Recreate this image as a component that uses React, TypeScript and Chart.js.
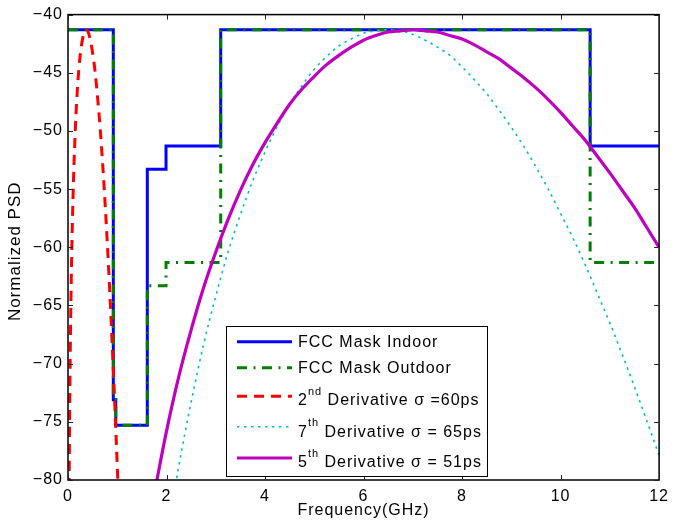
import { useEffect, useRef } from 'react';
import { Chart, registerables } from 'chart.js';

Chart.register(...registerables);

// ---- data -------------------------------------------------------------

const seriesLabels = [
  'FCC Mask Indoor',
  'FCC Mask Outdoor',
  '2nd Derivative σ =60ps',
  '7th Derivative σ = 65ps',
  '5th Derivative σ = 51ps',
];

// FCC spectral masks (GHz, dBm/MHz)
const maskFreq = [0, 0.92, 0.92, 0.97, 0.97, 1.61, 1.61, 1.99, 1.99, 3.1, 3.1, 10.6, 10.6, 12];
const indoorPSD = [-41.3, -41.3, -73.1, -73.1, -75.3, -75.3, -53.3, -53.3, -51.3, -51.3, -41.3, -41.3, -51.3, -51.3];
const outdoorPSD = [-41.3, -41.3, -73.1, -73.1, -75.3, -75.3, -63.3, -63.3, -61.3, -61.3, -41.3, -41.3, -61.3, -61.3];

// 2nd derivative Gaussian pulse, sigma = 60 ps
const freq2nd = [0.01, 0.02, 0.03, 0.04, 0.06, 0.08, 0.1, 0.12, 0.15, 0.2, 0.25, 0.3, 0.35, 0.37, 0.4, 0.45, 0.5, 0.55, 0.6, 0.65, 0.7, 0.75, 0.8, 0.85, 0.9, 0.95, 1.0, 1.05];
const psd2nd = [-95.3, -83.3, -76.3, -71.4, -64.4, -59.6, -56.0, -53.1, -49.7, -45.8, -43.4, -42.0, -41.4, -41.3, -41.4, -42.1, -43.3, -44.9, -47.1, -49.6, -52.6, -56.0, -59.8, -64.0, -68.6, -73.5, -78.8, -84.5];

// 7th derivative Gaussian pulse, sigma = 65 ps
const freq7th = [2.0, 2.25, 2.5, 2.75, 3.0, 3.25, 3.5, 3.75, 4.0, 4.25, 4.5, 4.75, 5.0, 5.25, 5.5, 5.75, 6.0, 6.25, 6.5, 6.75, 7.0, 7.25, 7.5, 7.75, 8.0, 8.25, 8.5, 8.75, 9.0, 9.25, 9.5, 9.75, 10.0, 10.25, 10.5, 10.75, 11.0, 11.25, 11.5, 11.75, 12.0];
const psd7th = [-85.2, -78.8, -73.3, -68.4, -64.2, -60.4, -57.2, -54.3, -51.8, -49.6, -47.7, -46.1, -44.7, -43.6, -42.7, -42.1, -41.6, -41.4, -41.3, -41.4, -41.7, -42.2, -42.8, -43.5, -44.5, -45.6, -46.8, -48.2, -49.7, -51.3, -53.1, -55.0, -57.1, -59.2, -61.5, -64.0, -66.5, -69.2, -72.0, -74.9, -77.9];

// 5th derivative Gaussian pulse, sigma = 51 ps
const freq5th = [1.75, 2.0, 2.25, 2.5, 2.75, 3.0, 3.25, 3.5, 3.75, 4.0, 4.25, 4.5, 4.75, 5.0, 5.25, 5.5, 5.75, 6.0, 6.25, 6.5, 6.75, 7.0, 7.25, 7.5, 7.75, 8.0, 8.25, 8.5, 8.75, 9.0, 9.25, 9.5, 9.75, 10.0, 10.25, 10.5, 10.75, 11.0, 11.25, 11.5, 11.75, 12.0];
const psd5th = [-81.2, -75.8, -71.1, -67.1, -63.5, -60.4, -57.6, -55.1, -52.9, -51.0, -49.3, -47.7, -46.4, -45.3, -44.3, -43.5, -42.8, -42.2, -41.8, -41.5, -41.4, -41.3, -41.4, -41.5, -41.8, -42.1, -42.6, -43.2, -43.8, -44.6, -45.4, -46.3, -47.3, -48.4, -49.6, -50.8, -52.2, -53.6, -55.1, -56.6, -58.3, -60.0];

const freqTicks = [0, 2, 4, 6, 8, 10, 12];
const psdTicks = [-80, -75, -70, -65, -60, -55, -50, -45, -40];

const xTitle = 'Frequency(GHz)';
const yTitle = 'Normalized PSD';

// ---- styling ----------------------------------------------------------

const FONT = '"Liberation Sans", Arial, Helvetica, sans-serif';

const seriesStyles = [
  { color: '#0000ff', width: 3, dash: [] as number[] },
  { color: '#008000', width: 3, dash: [10, 6.5, 2, 6.5] },
  { color: '#ff0000', width: 3, dash: [10, 7] },
  { color: '#00bfbf', width: 1.6, dash: [2.5, 4.5] },
  { color: '#bf00bf', width: 3.2, dash: [] as number[] },
];

const pairs = (xs: number[], ys: number[]) => xs.map((x, i) => ({ x, y: ys[i] }));

const seriesData = [
  pairs(maskFreq, indoorPSD),
  pairs(maskFreq, outdoorPSD),
  pairs(freq2nd, psd2nd),
  pairs(freq7th, psd7th),
  pairs(freq5th, psd5th),
];

const minusLabel = (v: number | string) => {
  const n = Number(v);
  return n < 0 ? '\u2212' + Math.abs(n) : String(n);
};

// box, inward ticks, axis titles and legend
const framePlugin = {
  id: 'frame',
  beforeDraw(chart: any) {
    chart.ctx.letterSpacing = '1px';
  },
  afterDraw(chart: any) {
    const ctx: CanvasRenderingContext2D = chart.ctx;
    const { left, right, top, bottom } = chart.chartArea;
    const xs = chart.scales.x;
    const ys = chart.scales.y;
    ctx.save();
    ctx.letterSpacing = '1px';

    // axes box
    ctx.strokeStyle = '#000';
    ctx.lineWidth = 1.5;
    ctx.setLineDash([]);
    ctx.strokeRect(left, top, right - left, bottom - top);

    // inward tick marks on all four sides
    const tl = 5;
    ctx.lineWidth = 1;
    ctx.strokeStyle = '#222';
    ctx.beginPath();
    freqTicks.forEach((v) => {
      const px = Math.round(xs.getPixelForValue(v)) + 0.5;
      ctx.moveTo(px, bottom);
      ctx.lineTo(px, bottom - tl);
      ctx.moveTo(px, top);
      ctx.lineTo(px, top + tl);
    });
    psdTicks.forEach((v) => {
      const py = Math.round(ys.getPixelForValue(v)) + 0.5;
      ctx.moveTo(left, py);
      ctx.lineTo(left + tl, py);
      ctx.moveTo(right, py);
      ctx.lineTo(right - tl, py);
    });
    ctx.stroke();

    // axis titles
    ctx.fillStyle = '#000';
    ctx.font = `16px ${FONT}`;
    ctx.textAlign = 'center';
    ctx.textBaseline = 'alphabetic';
    ctx.fillText(xTitle, (left + right) / 2, 515);

    ctx.save();
    ctx.translate(20, (top + bottom) / 2 + 4);
    ctx.rotate(-Math.PI / 2);
    ctx.font = `17px ${FONT}`;
    ctx.fillText(yTitle, 0, 0);
    ctx.restore();

    // legend
    const lx = 226;
    const ly = 326;
    const lw = 261;
    const lh = 150;
    ctx.fillStyle = '#fff';
    ctx.fillRect(lx, ly, lw, lh);
    ctx.strokeStyle = '#000';
    ctx.lineWidth = 1;
    ctx.strokeRect(lx + 0.5, ly + 0.5, lw, lh);

    const lineY = [341.7, 367.7, 396.3, 426.7, 458];
    const baseY = [347.3, 373.3, 405, 436.7, 467];
    ctx.textAlign = 'left';
    seriesLabels.forEach((label, i) => {
      const st = seriesStyles[i];
      ctx.strokeStyle = st.color;
      ctx.lineWidth = st.width;
      ctx.setLineDash(st.dash);
      ctx.beginPath();
      ctx.moveTo(237, lineY[i]);
      ctx.lineTo(292, lineY[i]);
      ctx.stroke();
      ctx.setLineDash([]);

      ctx.fillStyle = '#000';
      let x = 298;
      const m = label.match(/^(\d)(st|nd|rd|th)(.*)$/);
      if (m) {
        ctx.font = `16px ${FONT}`;
        ctx.fillText(m[1], x, baseY[i]);
        x += ctx.measureText(m[1]).width;
        ctx.font = `11px ${FONT}`;
        ctx.fillText(m[2], x, baseY[i] - 10.5);
        x += ctx.measureText(m[2]).width;
        ctx.font = `16px ${FONT}`;
        ctx.fillText(m[3], x, baseY[i]);
      } else {
        ctx.font = `16px ${FONT}`;
        ctx.fillText(label, x, baseY[i]);
      }
    });
    ctx.restore();
  },
};

export default function App() {
  const canvasRef = useRef<HTMLCanvasElement>(null);

  useEffect(() => {
    const canvas = canvasRef.current;
    if (!canvas) return;
    const chart = new Chart(canvas, {
      type: 'line',
      data: {
        datasets: seriesLabels.map((label, i) => ({
          label,
          data: seriesData[i],
          borderColor: seriesStyles[i].color,
          borderWidth: seriesStyles[i].width,
          borderDash: seriesStyles[i].dash,
          borderCapStyle: 'butt' as const,
          borderJoinStyle: (i < 2 ? 'miter' : 'round') as any,
          cubicInterpolationMode: (i < 2 ? 'default' : 'monotone') as any,
          pointRadius: 0,
          fill: false,
          tension: 0,
          clip: 0,
          order: seriesLabels.length - i,
        })),
      },
      options: {
        animation: false,
        responsive: false,
        events: [],
        layout: { padding: { top: 10, right: 11, left: 0, bottom: 0 } },
        plugins: {
          legend: { display: false },
          tooltip: { enabled: false },
        },
        scales: {
          x: {
            type: 'linear',
            min: 0,
            max: 12,
            grid: { display: false, drawTicks: false },
            border: { display: false },
            afterBuildTicks: (s: any) => {
              s.ticks = freqTicks.map((value) => ({ value }));
            },
            afterFit: (s: any) => {
              s.height = 49;
            },
            ticks: {
              padding: 7,
              color: '#000',
              font: { family: FONT, size: 16 },
              maxRotation: 0,
              autoSkip: false,
              callback: minusLabel,
            },
          },
          y: {
            type: 'linear',
            min: -80,
            max: -40,
            grid: { display: false, drawTicks: false },
            border: { display: false },
            afterBuildTicks: (s: any) => {
              s.ticks = psdTicks.map((value) => ({ value }));
            },
            afterFit: (s: any) => {
              s.width = 68;
            },
            ticks: {
              padding: 5,
              color: '#000',
              font: { family: FONT, size: 16 },
              autoSkip: false,
              callback: minusLabel,
            },
          },
        },
      },
      plugins: [framePlugin],
    });
    return () => chart.destroy();
  }, []);

  return (
    <div style={{ position: 'fixed', left: 0, top: 0, width: 675, height: 529, background: '#fff' }}>
      <canvas ref={canvasRef} width={675} height={529} style={{ display: 'block' }} />
    </div>
  );
}
